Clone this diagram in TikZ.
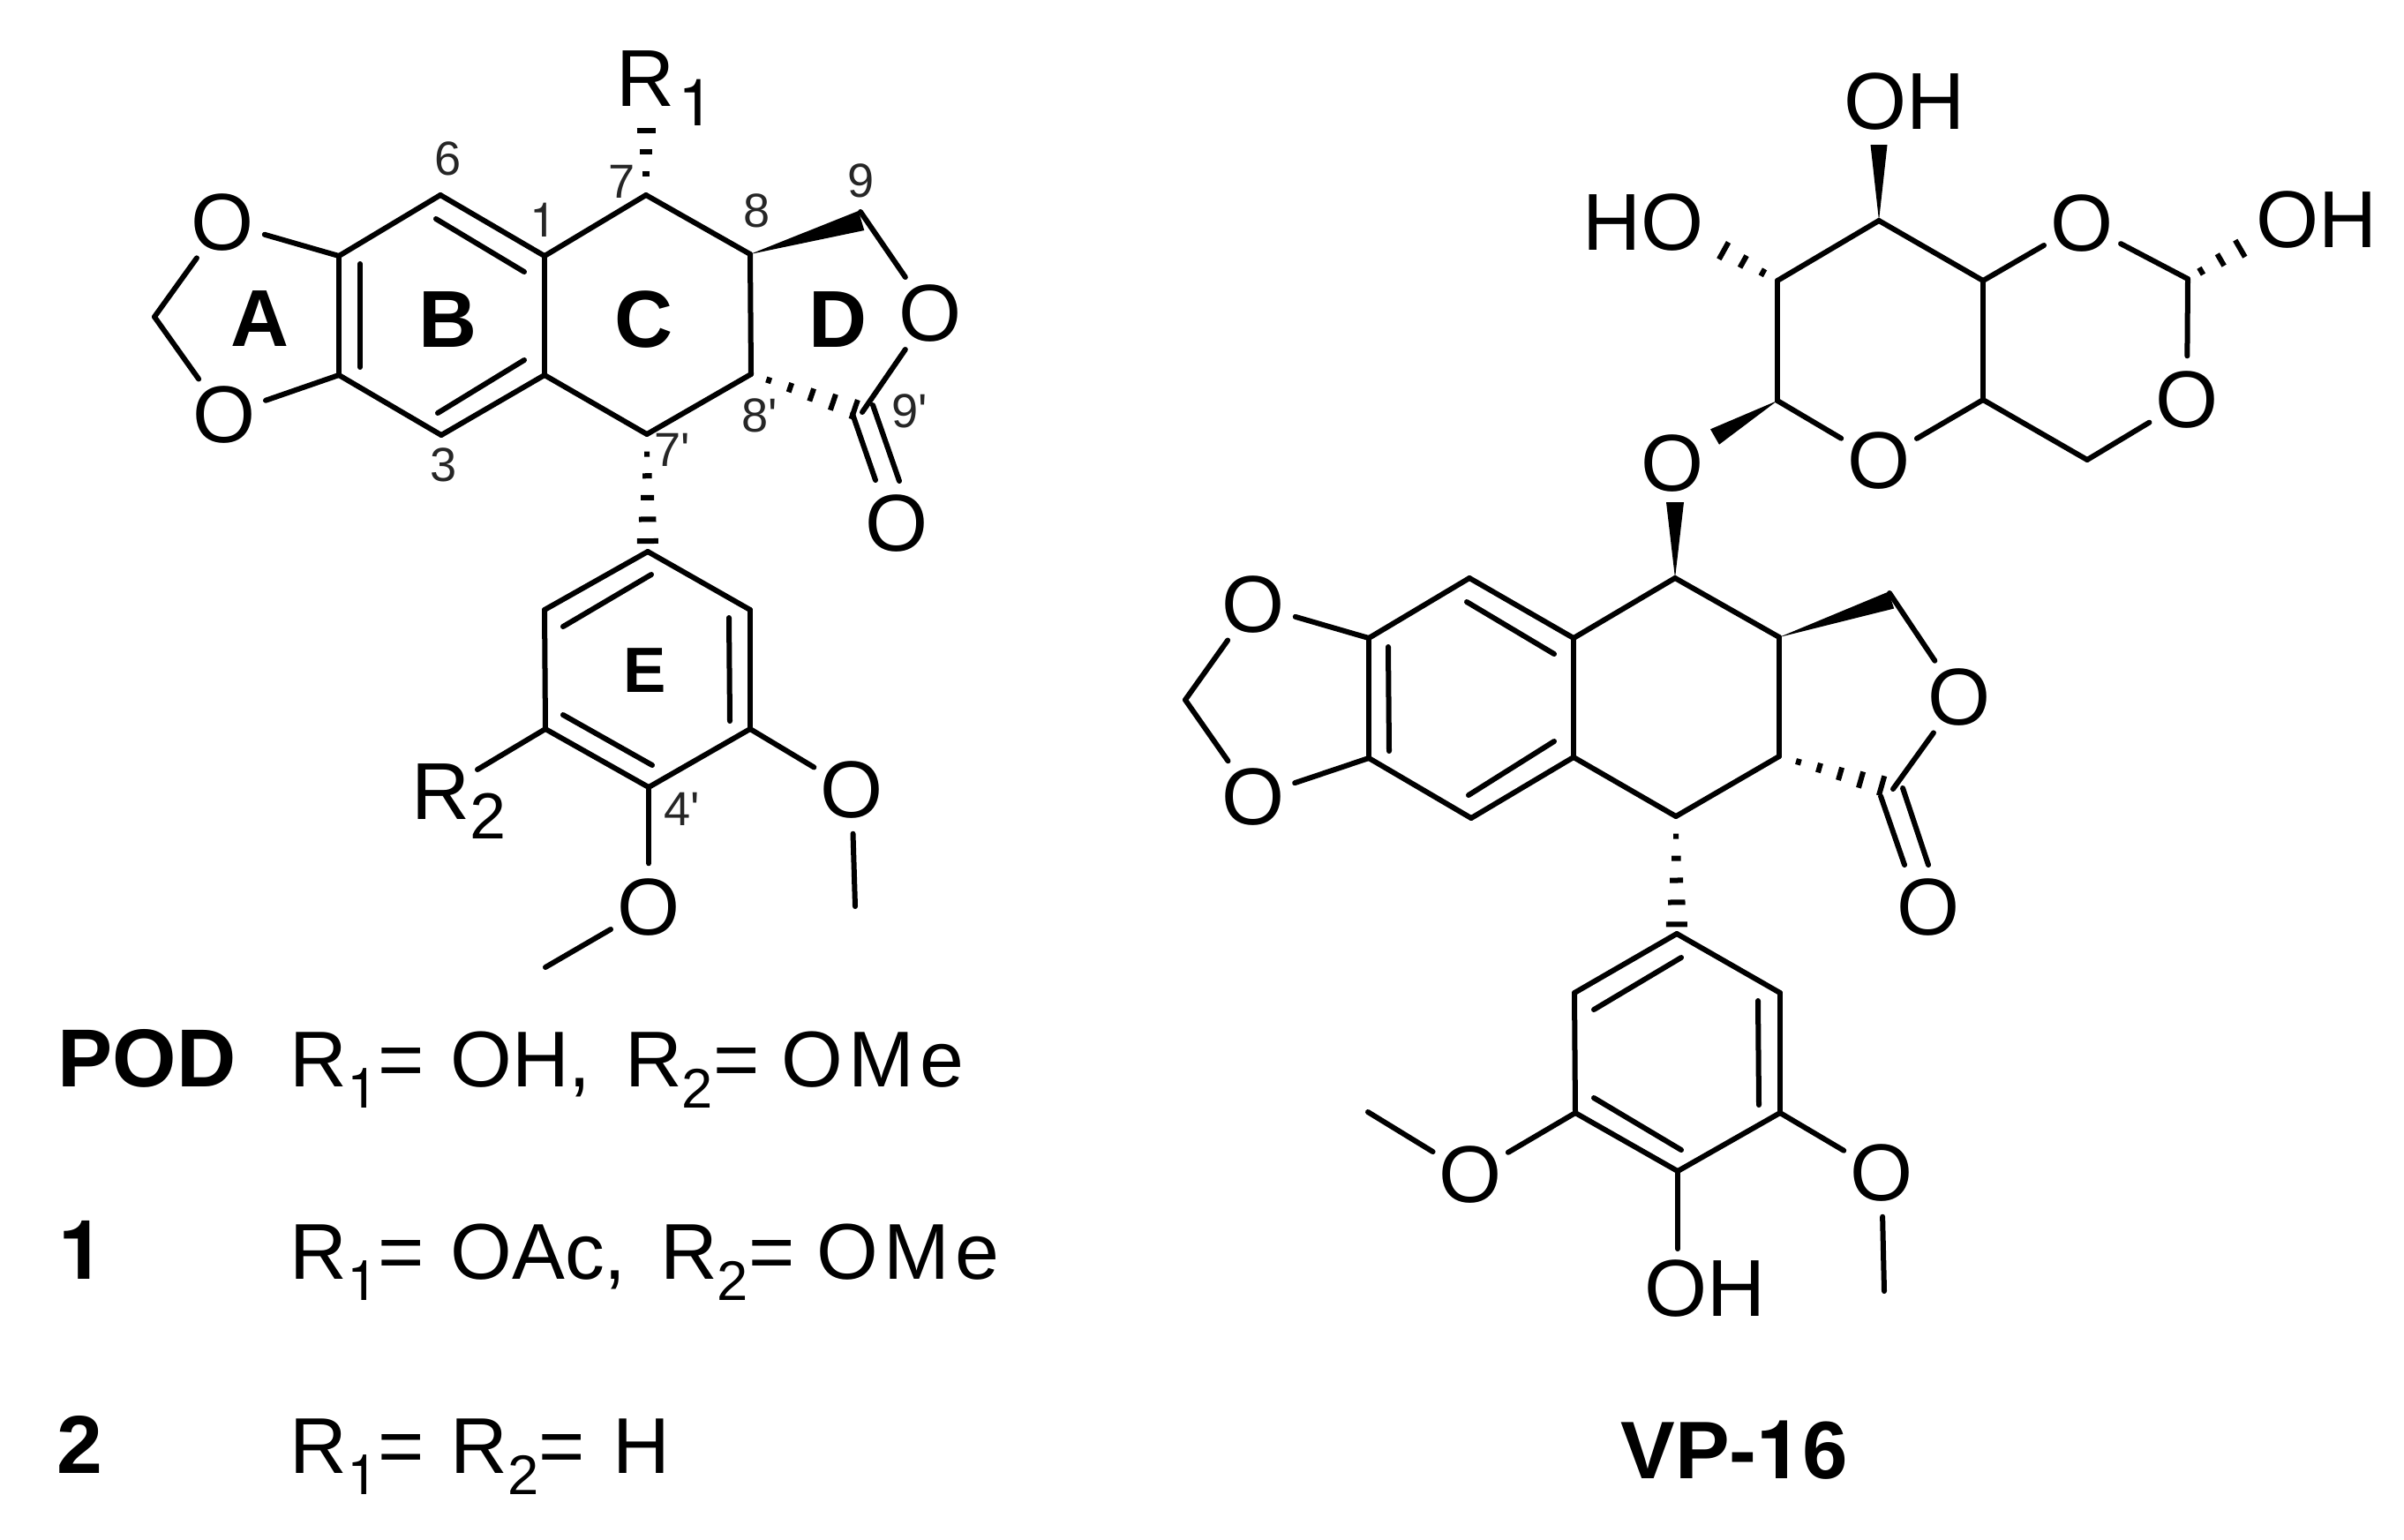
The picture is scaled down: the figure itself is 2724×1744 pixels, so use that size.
\documentclass[tikz,border=0pt]{standalone}
\usepackage{fontspec}
\setmainfont{Liberation Sans}
\newfontfamily\heros{TeX Gyre Heros}
\usetikzlibrary{calc}
\newcommand{\prm}{\textquotesingle}
\newcommand{\one}{{\heros 1}}
\newcommand{\sbn}[1]{\raisebox{-7pt}{\fontsize{18pt}{20pt}\selectfont #1}}
\newcommand{\sbm}[1]{\raisebox{-6.5pt}{\fontsize{21pt}{24pt}\selectfont #1}}
\newcommand{\ome}{O\kern1.8pt M\kern1.8pt e}
\newcommand{\hashbond}[7]{%
  \pgfmathtruncatemacro{\hN}{#3-1}%
  \foreach \i in {0,...,\hN}{%
    \pgfmathsetmacro{\hT}{#4+(#5-#4)*\i/\hN}%
    \pgfmathsetmacro{\hW}{(#6+(#7-#6)*\i/\hN)/2*0.01}%
    \coordinate (hp) at ($(#1)!\hT!(#2)$);%
    \draw[hashtick] ($(hp)!\hW cm!90:(#2)$) -- ($(hp)!\hW cm!-90:(#2)$);%
  }}
\newcommand{\wedgebond}[3]{%
  \fill (#1) -- ($(#2)!#3!90:(#1)$) -- ($(#2)!#3!-90:(#1)$) -- cycle;}
\tikzset{
  bond/.style={line width=0.06cm,line cap=round,line join=round},
  hashtick/.style={line width=0.06cm},
  atom/.style={circle,minimum size=0.98cm,inner sep=0pt,text depth=0pt,font=\fontsize{26pt}{30pt}\selectfont},
  atomtxt/.style={inner sep=0pt,font=\fontsize{26pt}{30pt}\selectfont},
  grp/.style={inner sep=0pt,yshift=-0.03cm,font=\fontsize{26pt}{30pt}\selectfont},
  num/.style={inner sep=0pt,text=black!85,font=\fontsize{15.4pt}{18pt}\selectfont},
  ringlab/.style={inner sep=0pt,font=\fontsize{26pt}{30pt}\selectfont\bfseries},
  rowtxt/.style={inner sep=0pt,anchor=base west,font=\fontsize{25.5pt}{30pt}\selectfont},
  rowbold/.style={inner sep=0pt,anchor=base west,font=\fontsize{26.5pt}{30pt}\selectfont\bfseries}
}
\begin{document}
\begin{tikzpicture}[x=0.01cm,y=-0.01cm]
\useasboundingbox (0,0) rectangle (2724,1744);
% ---------- left molecule: vertices
\foreach \n/\x/\y in {
 lc6/499/221,lc5/384/290,lc4/384/425,lc3/500/493,lc2/617/425,lc1/617/290,
 lc7/732/221,lc8/850/288,lc8p/851/424,lc7p/733/492,lc9/975/240,lc9p/977/467,
 lch/175/359,lwd/976/250,lr1e/732/140,
 lea/734/625,leb/617/691,lec/618/826,led/735/892,lee/850/826,lef/850/691,
 lme1/618/1096,lme2/969/1027,lr2e/541/872,
 ld1a/408/299,ld1b/408/416,ld2a/494/248,ld2b/594/308,ld3a/496/468,ld3b/594/408,
 ld4a/638/710,ld4b/738/651,ld5a/826/700,ld5b/827/817,ld6a/638/810,ld6b/739/867,
 lco1a/966/469,lco1b/992/544,lco2a/989/459,lco2b/1019/545}
 {\coordinate (\n) at (\x,\y);}
\foreach \n/\x/\y in {lo1/252/252,lo2/254/470,lo3/1054/355,lo4/1016/593,lo5/965/895,lo6/735/1028}
 {\node[atom] (\n) at (\x,\y) {O};}
\node[grp,anchor=base west] (lr1) at (698,117) {R\kern1pt\sbm{\one}};
\node[grp,anchor=base west] (lr2) at (466,925) {R\sbm{2}};
% bonds
\draw[bond] (lc5)--(lc6); \draw[bond] (lc6)--(lc1); \draw[bond] (lc1)--(lc2);
\draw[bond] (lc2)--(lc3); \draw[bond] (lc3)--(lc4); \draw[bond] (lc4)--(lc5);
\draw[bond] (lc1)--(lc7); \draw[bond] (lc7)--(lc8); \draw[bond] (lc8)--(lc8p);
\draw[bond] (lc8p)--(lc7p); \draw[bond] (lc7p)--(lc2);
\draw[bond] (lc5)--(lo1); \draw[bond] (lc4)--(lo2);
\draw[bond] (lo1)--(lch); \draw[bond] (lo2)--(lch);
\draw[bond] (lc9)--(lo3); \draw[bond] (lo3)--(lc9p);
\draw[bond] (ld1a)--(ld1b); \draw[bond] (ld2a)--(ld2b); \draw[bond] (ld3a)--(ld3b);
\draw[bond] (lco1a)--(lco1b); \draw[bond] (lco2a)--(lco2b);
\wedgebond{lc8}{lwd}{0.115cm}
\hashbond{lc7}{lr1e}{3}{0.30}{0.90}{8}{21}
\hashbond{lc7p}{lea}{5}{0.17}{0.91}{6}{24}
\hashbond{lc8p}{lc9p}{5}{0.16}{0.93}{7}{23}
% E ring
\draw[bond] (lea)--(leb); \draw[bond] (leb)--(lec); \draw[bond] (lec)--(led);
\draw[bond] (led)--(lee); \draw[bond] (lee)--(lef); \draw[bond] (lef)--(lea);
\draw[bond] (ld4a)--(ld4b); \draw[bond] (ld5a)--(ld5b); \draw[bond] (ld6a)--(ld6b);
\draw[bond] (lec)--(lr2e); \draw[bond] (lee)--(lo5); \draw[bond] (lo5)--(lme2);
\draw[bond] (led)--(lo6); \draw[bond] (lo6)--(lme1);
% left numbers
\node[num] (n6) at (508,180) {6};
\node[num] (n7) at (705,206) {7};
\node[num] (n1) at (616,249) {\one};
\node[num] (n8) at (858,239) {8};
\node[num] (n9) at (976,205) {9};
\node[num] (n8p) at (861,471) {8\prm};
\node[num] (n9p) at (1031,466) {9\prm};
\node[num] (n7p) at (762,510) {7\prm};
\node[num] (n3) at (503,527) {3};
\node[num] (n4p) at (773,917) {4\prm};
\node[ringlab] (ra) at (295,361) {A};
\node[ringlab] (rb) at (508,362) {B};
\node[ringlab] (rc) at (730,362) {C};
\node[ringlab] (rd) at (950,362) {D};
\node[ringlab,font=\fontsize{20.6pt}{24pt}\selectfont\bfseries] (re) at (731,760) {E};
% rows
\node[rowbold] (pod) at (65,1231) {POD};
\node[rowbold] (one) at (66,1449) {\one};
\node[rowbold] (two) at (64,1669) {2};
\node[rowtxt] (row1) at (328,1231) {R\sbn{\one}=\kern1.3pt\ OH,\kern3.8pt\ R\sbn{2}= \ome};
\node[rowtxt] (row2) at (328,1449) {R\sbn{\one}=\kern1.3pt\ OAc,\kern3.8pt\ R\sbn{2}= \ome};
\node[rowtxt] (row3) at (328,1669) {R\sbn{\one}=\kern1.3pt\ R\sbn{2}=\kern2pt\ H};
% ---------- right molecule: sugar
\foreach \n/\x/\y in {
 sa/2129/250,sb/2014/318,sc/2014/454,se/2247/318,sd/2247/453,sf/2479/316,sg/2365/521,
 swt/2129/164,swg/1943/495,shl/1935/274,shr/2555/272,
 rc6/1665/655,rc5/1551/723,rc4/1551/859,rc3/1667/927,rc2/1783/858,rc1/1783/723,
 rc7/1898/655,rc8/2016/722,rc8p/2016/857,rc7p/1899/925,rc9/2141/672,rc9p/2145/894,
 rwd/2143/680,rwo/1898/569,rch/1343/793,
 rea/1900/1058,reb/1784/1125,rec/1785/1261,red/1901/1327,ree/2017/1261,ref/2017/1125,
 rme1/1550/1260,rme2/2135/1463,roh/1901/1415,
 rd1a/1573/733,rd1b/1574/851,rd2a/1662/682,rd2b/1761/741,rd3a/1664/901,rd3b/1761/840,
 rd4a/1806/1144,rd4b/1905/1085,rd5a/1992/1134,rd5b/1993/1252,rd6a/1806/1244,rd6b/1905/1303,
 rco1a/2131/902,rco1b/2158/980,rco2a/2156/893,rco2b/2185/980}
 {\coordinate (\n) at (\x,\y);}
\foreach \n/\x/\y in {so1/2359/253,so2/2478/453,so3/2129/522,so4/1895/525,
 ro1/1420/685,ro2/1420/903,ro3/2220/790,ro4/2185/1028,ro5/1666/1331,ro6/2132/1329}
 {\node[atom] (\n) at (\x,\y) {O};}
\node[atomtxt] (soh1) at (2158,115) {OH};
\node[atomtxt] (soh2) at (1862,252) {HO};
\node[atomtxt] (soh3) at (2625,249) {OH};
\node[atomtxt] (roh4) at (1932,1460) {OH};
% sugar bonds
\draw[bond] (sa)--(sb); \draw[bond] (sb)--(sc); \draw[bond] (sa)--(se);
\draw[bond] (se)--(sd); \draw[bond] (sc)--(so3); \draw[bond] (so3)--(sd);
\draw[bond] (se)--(so1); \draw[bond] (so1)--(sf); \draw[bond] (sf)--(so2);
\draw[bond] (so2)--(sg); \draw[bond] (sg)--(sd);
\wedgebond{sa}{swt}{0.095cm}
\wedgebond{sc}{swg}{0.10cm}
\hashbond{sb}{shl}{3}{0.21}{0.77}{9}{22}
\hashbond{sf}{shr}{3}{0.20}{0.78}{9}{22}
% right core
\draw[bond] (rc5)--(rc6); \draw[bond] (rc6)--(rc1); \draw[bond] (rc1)--(rc2);
\draw[bond] (rc2)--(rc3); \draw[bond] (rc3)--(rc4); \draw[bond] (rc4)--(rc5);
\draw[bond] (rc1)--(rc7); \draw[bond] (rc7)--(rc8); \draw[bond] (rc8)--(rc8p);
\draw[bond] (rc8p)--(rc7p); \draw[bond] (rc7p)--(rc2);
\draw[bond] (rc5)--(ro1); \draw[bond] (rc4)--(ro2);
\draw[bond] (ro1)--(rch); \draw[bond] (ro2)--(rch);
\draw[bond] (rc9)--(ro3); \draw[bond] (ro3)--(rc9p);
\draw[bond] (rd1a)--(rd1b); \draw[bond] (rd2a)--(rd2b); \draw[bond] (rd3a)--(rd3b);
\draw[bond] (rco1a)--(rco1b); \draw[bond] (rco2a)--(rco2b);
\wedgebond{rc8}{rwd}{0.10cm}
\wedgebond{rc7}{rwo}{0.10cm}
\hashbond{rc7p}{rea}{5}{0.17}{0.92}{6}{24}
\hashbond{rc8p}{rc9p}{5}{0.17}{0.90}{7}{23}
% right E ring
\draw[bond] (rea)--(reb); \draw[bond] (reb)--(rec); \draw[bond] (rec)--(red);
\draw[bond] (red)--(ree); \draw[bond] (ree)--(ref); \draw[bond] (ref)--(rea);
\draw[bond] (rd4a)--(rd4b); \draw[bond] (rd5a)--(rd5b); \draw[bond] (rd6a)--(rd6b);
\draw[bond] (rec)--(ro5); \draw[bond] (ro5)--(rme1);
\draw[bond] (ree)--(ro6); \draw[bond] (ro6)--(rme2);
\draw[bond] (red)--(roh);
\node[inner sep=0pt,font=\fontsize{26.3pt}{30pt}\selectfont\bfseries] (vp) at (1965,1643) {VP-{\heros 1}6};
\end{tikzpicture}
\end{document}
